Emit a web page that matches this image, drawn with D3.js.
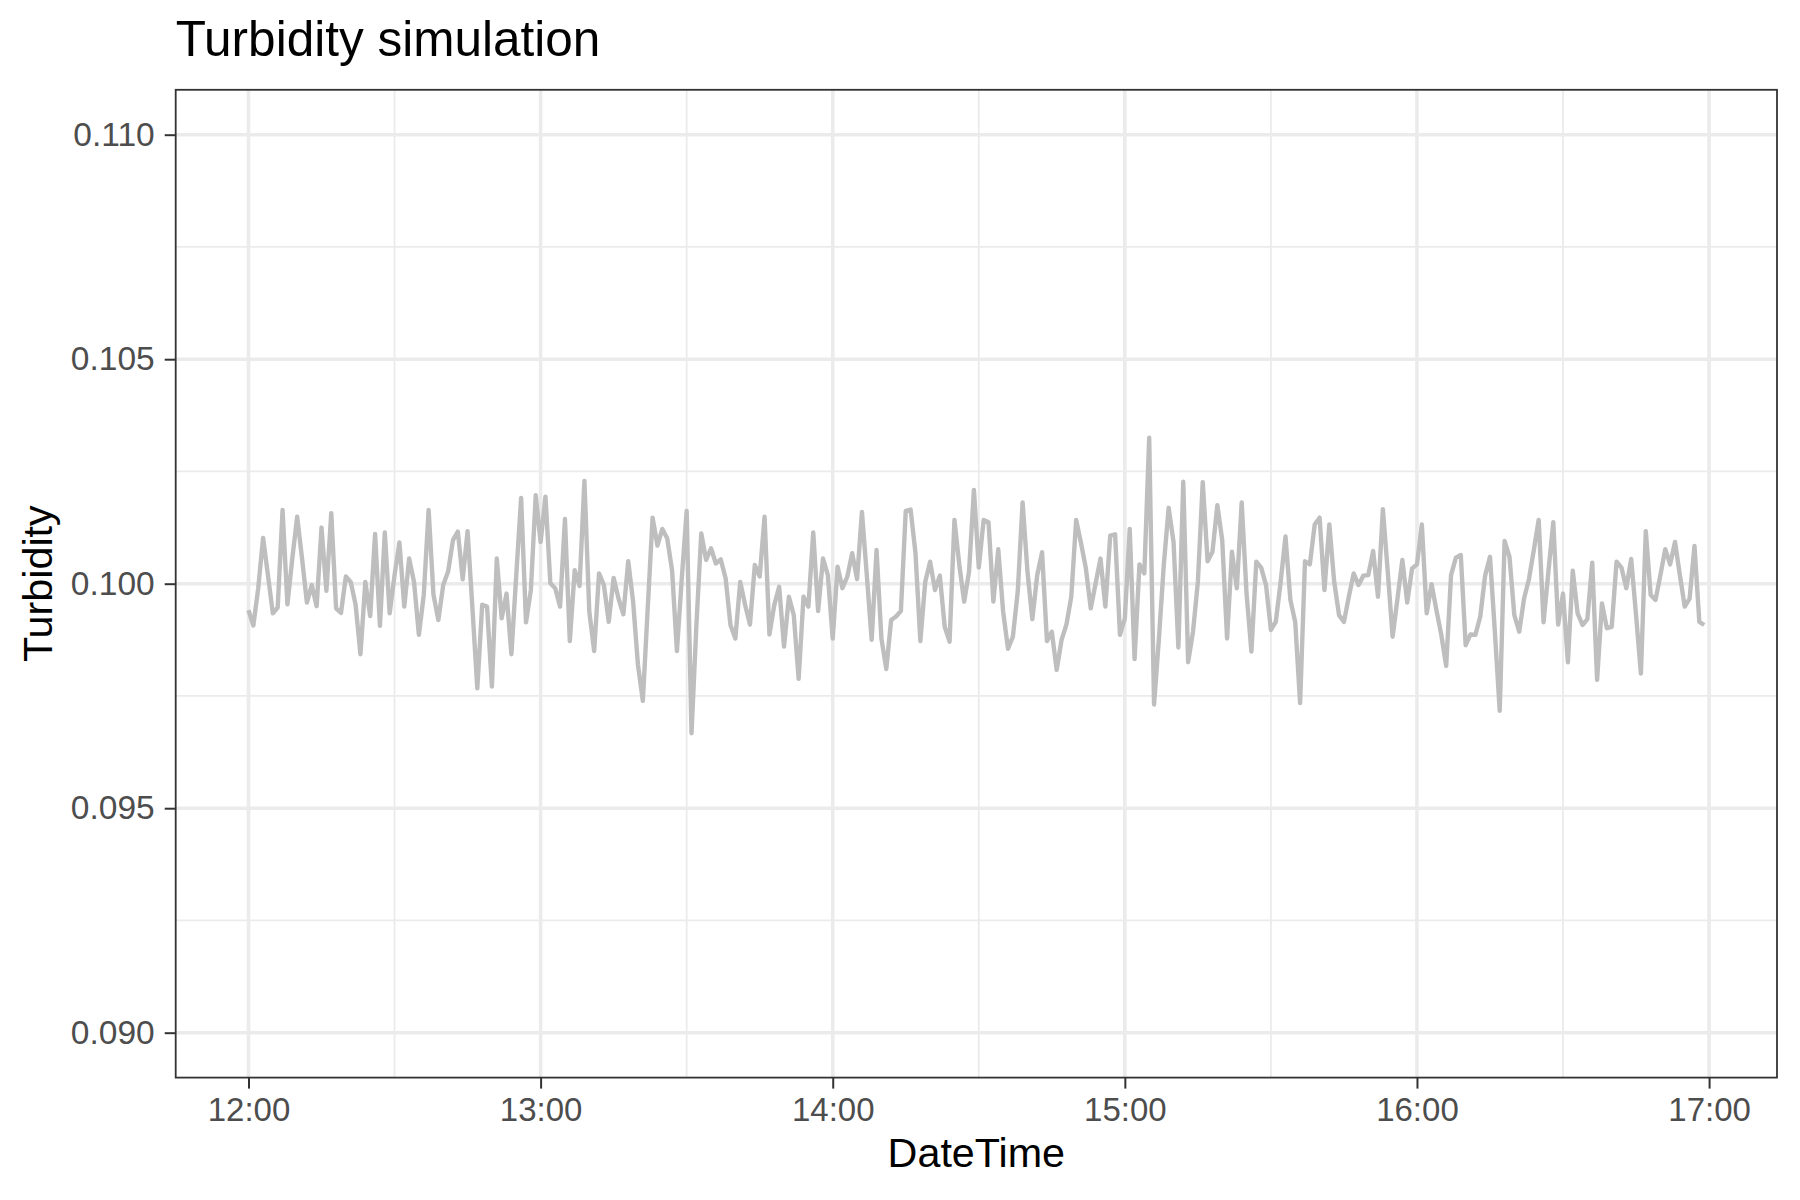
<!DOCTYPE html>
<html>
<head>
<meta charset="utf-8">
<script src="https://cdn.jsdelivr.net/npm/d3@7"></script>
<style>
  html, body { margin: 0; padding: 0; background: #ffffff; }
  svg { display: block; font-family: "Liberation Sans", Arial, Helvetica, sans-serif; }
</style>
</head>
<body>
<svg id="chart" width="1800" height="1200"></svg>
<script>
// ---------------- data ----------------
const chartTitle = "Turbidity simulation";
const xTitle = "DateTime";
const yTitle = "Turbidity";

// one reading per minute, starting 12:00
const startHour = 12;
const stepMinutes = 1;
const turbidity = [
  0.09941, 0.09907, 0.09990, 0.10102, 0.10019, 0.09934, 0.09947, 0.10164, 0.09954, 0.10056,
  0.10149, 0.10056, 0.09958, 0.09997, 0.09950, 0.10125, 0.09984, 0.10157, 0.09945, 0.09935,
  0.10016, 0.10004, 0.09953, 0.09843, 0.10004, 0.09928, 0.10111, 0.09906, 0.10114, 0.09934,
  0.10019, 0.10092, 0.09949, 0.10056, 0.10004, 0.09886, 0.09975, 0.10164, 0.09975, 0.09919,
  0.09997, 0.10027, 0.10097, 0.10116, 0.10010, 0.10117, 0.09945, 0.09767, 0.09953, 0.09949,
  0.09771, 0.10056, 0.09923, 0.09978, 0.09843, 0.10019, 0.10191, 0.09914, 0.09986, 0.10197,
  0.10093, 0.10194, 0.10001, 0.09990, 0.09949, 0.10144, 0.09872, 0.10030, 0.09995, 0.10229,
  0.09938, 0.09850, 0.10023, 0.09997, 0.09915, 0.10013, 0.09967, 0.09932, 0.10050, 0.09960,
  0.09819, 0.09739, 0.09945, 0.10147, 0.10085, 0.10122, 0.10101, 0.10030, 0.09850, 0.10012,
  0.10162, 0.09667, 0.09908, 0.10112, 0.10053, 0.10079, 0.10045, 0.10054, 0.10012, 0.09908,
  0.09878, 0.10004, 0.09953, 0.09909, 0.10042, 0.10016, 0.10149, 0.09887, 0.09953, 0.09993,
  0.09860, 0.09971, 0.09930, 0.09788, 0.09971, 0.09949, 0.10114, 0.09939, 0.10056, 0.10019,
  0.09878, 0.10038, 0.09990, 0.10016, 0.10068, 0.10010, 0.10160, 0.10019, 0.09875, 0.10075,
  0.09878, 0.09810, 0.09919, 0.09927, 0.09939, 0.10162, 0.10165, 0.10068, 0.09872, 0.10004,
  0.10049, 0.09986, 0.10018, 0.09904, 0.09871, 0.10142, 0.10042, 0.09960, 0.10027, 0.10209,
  0.10036, 0.10142, 0.10137, 0.09960, 0.10077, 0.09938, 0.09855, 0.09882, 0.09982, 0.10181,
  0.10027, 0.09921, 0.10019, 0.10070, 0.09872, 0.09893, 0.09808, 0.09875, 0.09909, 0.09971,
  0.10142, 0.10090, 0.10034, 0.09945, 0.10001, 0.10056, 0.09949, 0.10107, 0.10110, 0.09886,
  0.09923, 0.10122, 0.09832, 0.10043, 0.10023, 0.10325, 0.09731, 0.09878, 0.10042, 0.10169,
  0.10093, 0.09858, 0.10227, 0.09825, 0.09893, 0.10004, 0.10226, 0.10050, 0.10071, 0.10175,
  0.10097, 0.09878, 0.10071, 0.09990, 0.10181, 0.09978, 0.09849, 0.10049, 0.10036, 0.09997,
  0.09897, 0.09915, 0.10004, 0.10105, 0.09964, 0.09914, 0.09734, 0.10050, 0.10043, 0.10132,
  0.10147, 0.09986, 0.10132, 0.10004, 0.09930, 0.09915, 0.09971, 0.10023, 0.09997, 0.10018,
  0.10019, 0.10073, 0.09971, 0.10166, 0.10027, 0.09882, 0.09967, 0.10053, 0.09958, 0.10034,
  0.10043, 0.10132, 0.09934, 0.09999, 0.09941, 0.09886, 0.09817, 0.10019, 0.10058, 0.10064,
  0.09863, 0.09887, 0.09886, 0.09927, 0.10018, 0.10060, 0.09893, 0.09717, 0.10095, 0.10060,
  0.09930, 0.09893, 0.09967, 0.10010, 0.10075, 0.10142, 0.09914, 0.10027, 0.10137, 0.09909,
  0.09978, 0.09825, 0.10029, 0.09934, 0.09908, 0.09921, 0.10047, 0.09786, 0.09956, 0.09901,
  0.09904, 0.10049, 0.10036, 0.09990, 0.10055, 0.09930, 0.09800, 0.10117, 0.09975, 0.09964,
  0.10019, 0.10077, 0.10043, 0.10093, 0.10019, 0.09949, 0.09967, 0.10084, 0.09915, 0.09908
];

const yTickValues = [0.090, 0.095, 0.100, 0.105, 0.110];
const yMinorValues = [0.0925, 0.0975, 0.1025, 0.1075];
const yLimits = [0.090, 0.110];
const xTickHours = [12, 13, 14, 15, 16, 17];
const xMinorHalfHours = [12.5, 13.5, 14.5, 15.5, 16.5];

// ---------------- layout ----------------
const W = 1800, H = 1200;
const panel = { left: 175.7, right: 1777, top: 89.8, bottom: 1077.6 };

const svg = d3.select("#chart");
svg.append("rect").attr("width", W).attr("height", H).attr("fill", "#ffffff");

const base = new Date(2024, 0, 1, 0, 0, 0);
const timeAt = h => new Date(base.getTime() + h * 3600 * 1000);
const series = turbidity.map((v, i) => ({
  t: timeAt(startHour + (i * stepMinutes) / 60),
  v: v
}));

// ggplot-style 5% expansion
const tMin = series[0].t.getTime(), tMax = series[series.length - 1].t.getTime();
const tPad = (tMax - tMin) * 0.05;
const x = d3.scaleTime()
  .domain([new Date(tMin - tPad), new Date(tMax + tPad)])
  .range([panel.left, panel.right]);

const yPad = (yLimits[1] - yLimits[0]) * 0.05;
const y = d3.scaleLinear()
  .domain([yLimits[0] - yPad, yLimits[1] + yPad])
  .range([panel.bottom, panel.top]);

const grid = svg.append("g");
// minor gridlines
grid.selectAll("line.ymin").data(yMinorValues).enter().append("line")
  .attr("x1", panel.left).attr("x2", panel.right)
  .attr("y1", d => y(d)).attr("y2", d => y(d))
  .attr("stroke", "#ebebeb").attr("stroke-width", 1.8);
grid.selectAll("line.xmin").data(xMinorHalfHours).enter().append("line")
  .attr("y1", panel.top).attr("y2", panel.bottom)
  .attr("x1", d => x(timeAt(d))).attr("x2", d => x(timeAt(d)))
  .attr("stroke", "#ebebeb").attr("stroke-width", 1.8);
// major gridlines
grid.selectAll("line.ymaj").data(yTickValues).enter().append("line")
  .attr("x1", panel.left).attr("x2", panel.right)
  .attr("y1", d => y(d)).attr("y2", d => y(d))
  .attr("stroke", "#ebebeb").attr("stroke-width", 3.6);
grid.selectAll("line.xmaj").data(xTickHours).enter().append("line")
  .attr("y1", panel.top).attr("y2", panel.bottom)
  .attr("x1", d => x(timeAt(d))).attr("x2", d => x(timeAt(d)))
  .attr("stroke", "#ebebeb").attr("stroke-width", 3.6);

// data line
const line = d3.line().x(d => x(d.t)).y(d => y(d.v));
svg.append("path").datum(series)
  .attr("d", line)
  .attr("fill", "none")
  .attr("stroke", "#bebebe")
  .attr("stroke-width", 4.4)
  .attr("stroke-linejoin", "round")
  .attr("stroke-linecap", "butt");

// panel border
svg.append("rect")
  .attr("x", panel.left).attr("y", panel.top)
  .attr("width", panel.right - panel.left).attr("height", panel.bottom - panel.top)
  .attr("fill", "none").attr("stroke", "#333333").attr("stroke-width", 1.8);

// axes
const fmtTime = d3.timeFormat("%H:%M");
const xAxis = d3.axisBottom(x)
  .tickValues(xTickHours.map(timeAt))
  .tickFormat(fmtTime)
  .tickSize(11).tickPadding(9);
const gx = svg.append("g").attr("transform", `translate(0,${panel.bottom})`).call(xAxis);
gx.select(".domain").remove();
gx.selectAll(".tick line").attr("stroke", "#333333").attr("stroke-width", 2);
gx.selectAll(".tick text").attr("fill", "#4d4d4d").attr("font-size", 33)
  .attr("font-family", "Liberation Sans, Arial, sans-serif");

const yAxis = d3.axisLeft(y)
  .tickValues(yTickValues)
  .tickFormat(d3.format(".3f"))
  .tickSize(11).tickPadding(10);
const gy = svg.append("g").attr("transform", `translate(${panel.left},0)`).call(yAxis);
gy.select(".domain").remove();
gy.selectAll(".tick line").attr("stroke", "#333333").attr("stroke-width", 2);
gy.selectAll(".tick text").attr("fill", "#4d4d4d").attr("font-size", 33.5)
  .attr("font-family", "Liberation Sans, Arial, sans-serif");

// titles
svg.append("text")
  .attr("x", panel.left).attr("y", 56)
  .attr("font-size", 49.5).attr("fill", "#000000")
  .text(chartTitle);

svg.append("text")
  .attr("x", (panel.left + panel.right) / 2).attr("y", 1167)
  .attr("text-anchor", "middle")
  .attr("font-size", 41.3).attr("fill", "#000000")
  .text(xTitle);

svg.append("text")
  .attr("transform", `translate(52,${(panel.top + panel.bottom) / 2}) rotate(-90)`)
  .attr("text-anchor", "middle")
  .attr("font-size", 41.3).attr("fill", "#000000")
  .text(yTitle);
</script>
</body>
</html>
